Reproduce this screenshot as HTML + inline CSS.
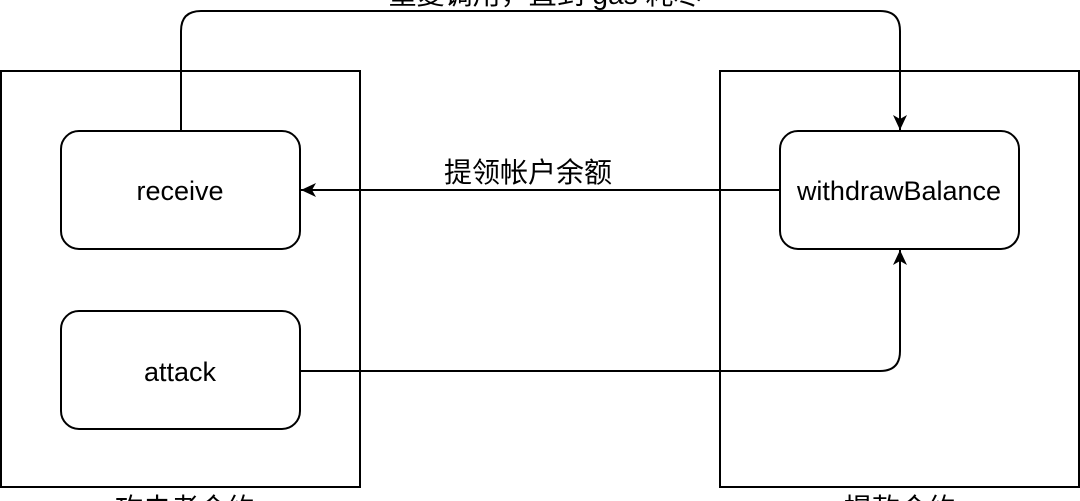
<!DOCTYPE html>
<html><head><meta charset="utf-8"><style>
html,body{margin:0;padding:0;background:#fff;width:1080px;height:501px;overflow:hidden}
svg text{font-family:"Liberation Sans","Noto Sans CJK SC",sans-serif;fill:#000}
</style></head><body>
<svg width="1080" height="501" viewBox="0 0 1080 501" xmlns="http://www.w3.org/2000/svg">
<defs><marker id="a" markerWidth="16" markerHeight="14" refX="15" refY="7" orient="auto" markerUnits="userSpaceOnUse"><path d="M0,0 L15,7 L0,14 L4,7 Z" fill="#000"/></marker></defs>
<g fill="none" stroke="#000" stroke-width="2">
<rect x="1" y="71" width="359" height="416"/>
<rect x="720" y="71" width="359" height="416"/>
<rect x="61" y="131" width="239" height="118" rx="18"/>
<rect x="61" y="311" width="239" height="118" rx="18"/>
<rect x="780" y="131" width="239" height="118" rx="18"/>
<path d="M181,131 V31 Q181,11 201,11 H880 Q900,11 900,31 V130" marker-end="url(#a)"/>
<path d="M780,190 H301" marker-end="url(#a)"/>
<path d="M300,371 H880 Q900,371 900,351 V250" marker-end="url(#a)"/>
</g>
<text x="545" y="4" font-size="28" text-anchor="middle">重复调用，直到 gas 耗尽</text>
<text x="528" y="182" font-size="28" text-anchor="middle">提领帐户余额</text>
<text x="180" y="200" font-size="27" text-anchor="middle">receive</text>
<text x="180" y="381" font-size="27" text-anchor="middle">attack</text>
<text x="899" y="200" font-size="27" text-anchor="middle">withdrawBalance</text>
<text x="185" y="518" font-size="28" text-anchor="middle">攻击者合约</text>
<text x="900" y="518" font-size="28" text-anchor="middle">提款合约</text>
</svg>
</body></html>
